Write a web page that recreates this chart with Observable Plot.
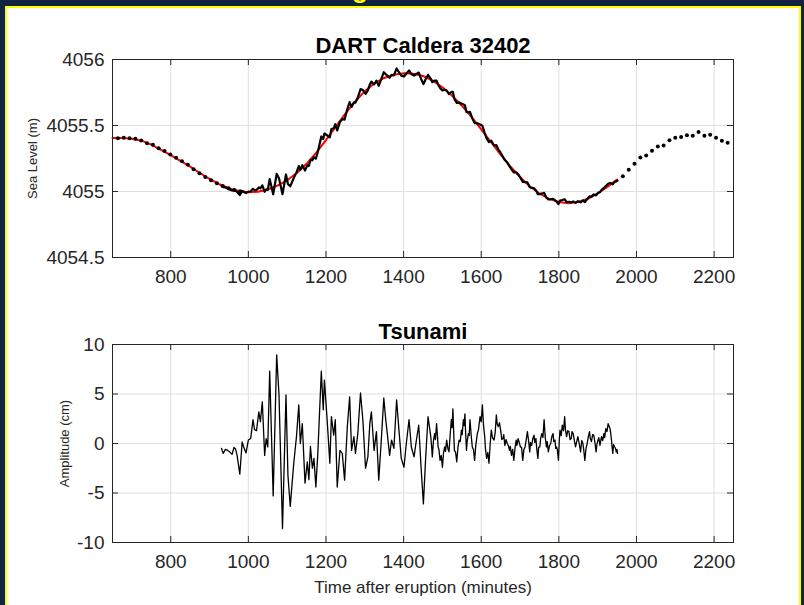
<!DOCTYPE html>
<html>
<head>
<meta charset="utf-8">
<script src="https://cdn.jsdelivr.net/npm/d3@7"></script>
<script src="https://cdn.jsdelivr.net/npm/@observablehq/plot@0.6"></script>
<style>
  html, body { margin: 0; padding: 0; }
  body { width: 804px; height: 605px; overflow: hidden; background: #10243f; position: relative;
         font-family: 'Liberation Sans', Arial, Helvetica, sans-serif; }
  #panel { position: absolute; left: 5px; top: 6px; width: 796px; height: 640px; box-sizing: border-box;
           border: 2px solid #ffff00; background: #ffffff; }
  #slideg { position: absolute; left: 352px; top: -24px; font: bold 26px 'Liberation Sans', Arial, sans-serif;
            line-height: 26px; color: #ffff00; }
  #p1 { position: absolute; left: 7px; top: 8px; }
  #p2 { position: absolute; left: 7px; top: 300px; }
</style>
</head>
<body>
<div id="panel"></div>
<div id="slideg">g</div>
<div id="p1"></div>
<div id="p2"></div>
<script>
// ---------------- data ----------------
const xTicks = [800, 1000, 1200, 1400, 1600, 1800, 2000, 2200];
const levelTicks = [4054.5, 4055, 4055.5, 4056];
const ampTicks = [-10, -5, 0, 5, 10];

// red tidal fit (m)
const tideMinutes = [650,675,700,725,750,775,800,825,850,875,900,925,950,975,1000,1025,1050,1075,1100,1125,1150,1175,1200,1225,1250,1275,1300,1325,1350,1375,1400,1425,1450,1475,1500,1525,1550,1575,1600,1625,1650,1675,1700,1725,1750,1775,1800,1825,1850,1875,1900,1925,1950];
const tideLevel = [4055.405,4055.405,4055.400,4055.385,4055.355,4055.315,4055.275,4055.232,4055.188,4055.140,4055.095,4055.055,4055.025,4055.005,4054.995,4054.998,4055.015,4055.045,4055.085,4055.140,4055.210,4055.295,4055.390,4055.490,4055.590,4055.680,4055.760,4055.820,4055.860,4055.885,4055.895,4055.892,4055.875,4055.840,4055.790,4055.725,4055.650,4055.565,4055.470,4055.375,4055.280,4055.190,4055.110,4055.040,4054.985,4054.945,4054.920,4054.910,4054.920,4054.945,4054.985,4055.035,4055.090];

// 15-minute samples (black dots)
const dotMinutes = [664,679,694,709,724,739,754,769,784,799,814,829,844,859,874,889,904,919,934,949,964,979,
  1965,1980,1995,2010,2025,2040,2055,2070,2085,2100,2115,2130,2145,2160,2175,2190,2205,2220,2235];
const dotLevel = [4055.404,4055.407,4055.404,4055.399,4055.387,4055.366,4055.354,4055.328,4055.306,4055.280,4055.255,4055.230,4055.202,4055.169,4055.138,4055.110,4055.085,4055.062,4055.042,4055.024,4055.012,4055.002,
  4055.116,4055.164,4055.210,4055.258,4055.273,4055.309,4055.341,4055.349,4055.389,4055.407,4055.412,4055.427,4055.422,4055.450,4055.422,4055.430,4055.407,4055.384,4055.369];

// high-rate record, upper panel (black line)
const eventMinutes = [
  931,935,941,947,952,958,963,967,971,978,
  984,988,994,1000,1006,1012,1016,1021,1027,1031,
  1036,1042,1046,1050,1055,1064,1073,1079,1088,1097,
  1102,1108,1117,1124,1130,1134,1139,1146,1152,1156,
  1160,1165,1169,1174,1179,1188,1193,1196,1203,1210,
  1214,1220,1224,1229,1236,1242,1248,1255,1261,1266,
  1272,1276,1282,1289,1295,1302,1308,1313,1317,1324,
  1330,1336,1342,1349,1354,1358,1364,1369,1375,1382,
  1388,1394,1401,1407,1414,1420,1427,1433,1439,1445,
  1451,1457,1463,1470,1474,1480,1485,1489,1494,1500,
  1506,1511,1517,1523,1527,1531,1537,1543,1549,1554,
  1558,1562,1567,1571,1577,1583,1590,1597,1603,1609,
  1614,1620,1626,1633,1639,1644,1650,1656,1661,1667,
  1673,1678,1684,1690,1695,1701,1707,1713,1719,1725,
  1730,1736,1741,1746,1751,1756,1762,1768,1773,1779,
  1785,1790,1794,1799,1803,1809,1815,1820,1826,1832,
  1837,1843,1849,1856,1862,1867,1873,1879,1884,1890,
  1896,1901,1906,1910,1916,1921,1927,1932,1936,1939,
  1944,1948,1951];
const eventLevel = [
  4055.043,4055.033,4055.030,4055.022,4055.014,4055.008,4055.011,4055.006,4054.996,4054.973,
  4055.003,4054.997,4054.988,4054.999,4055.001,4055.020,4055.011,4055.011,4055.031,4055.024,
  4055.047,4054.998,4055.017,4055.012,4055.094,4054.979,4055.133,4055.100,4054.980,4055.129,
  4055.057,4055.039,4055.102,4055.145,4055.193,4055.165,4055.199,4055.159,4055.198,4055.194,
  4055.241,4055.236,4055.260,4055.248,4055.300,4055.417,4055.397,4055.439,4055.426,4055.410,
  4055.473,4055.479,4055.510,4055.462,4055.527,4055.548,4055.545,4055.625,4055.677,4055.641,
  4055.676,4055.673,4055.712,4055.776,4055.768,4055.740,4055.766,4055.811,4055.833,4055.811,
  4055.840,4055.801,4055.847,4055.904,4055.888,4055.878,4055.862,4055.883,4055.880,4055.932,
  4055.904,4055.878,4055.871,4055.894,4055.917,4055.890,4055.878,4055.891,4055.901,4055.854,
  4055.813,4055.852,4055.884,4055.854,4055.828,4055.840,4055.840,4055.809,4055.785,4055.766,
  4055.771,4055.765,4055.738,4055.754,4055.754,4055.700,4055.671,4055.675,4055.667,4055.660,
  4055.653,4055.602,4055.602,4055.603,4055.554,4055.518,4055.518,4055.508,4055.498,4055.443,
  4055.402,4055.374,4055.385,4055.349,4055.351,4055.320,4055.294,4055.263,4055.238,4055.219,
  4055.190,4055.168,4055.144,4055.146,4055.131,4055.104,4055.073,4055.071,4055.069,4055.032,
  4055.027,4055.025,4055.010,4054.979,4054.980,4054.985,4054.990,4054.953,4054.940,4054.941,
  4054.945,4054.934,4054.923,4054.904,4054.932,4054.935,4054.941,4054.919,4054.922,4054.918,
  4054.925,4054.914,4054.927,4054.918,4054.932,4054.920,4054.943,4054.963,4054.961,4054.978,
  4054.970,4054.990,4054.995,4055.012,4055.027,4055.042,4055.059,4055.065,4055.060,4055.055,
  4055.073,4055.077,4055.082];

// tsunami amplitude (cm), lower panel
const ampMinutes = [
  931,935,941,947,952,958,963,967,971,978,
  984,988,994,1000,1006,1012,1016,1021,1027,1031,
  1036,1042,1046,1050,1055,1064,1073,1079,1088,1097,
  1102,1108,1117,1124,1130,1134,1139,1146,1152,1156,
  1160,1165,1169,1174,1179,1188,1193,1196,1203,1210,
  1214,1220,1224,1229,1236,1242,1248,1255,1261,1266,
  1272,1276,1282,1289,1295,1302,1308,1313,1317,1324,
  1330,1336,1342,1349,1354,1358,1364,1369,1375,1382,
  1388,1394,1401,1407,1414,1420,1427,1433,1439,1445,
  1451,1457,1463,1470,1472,1474,1477,1480,1482,1485,
  1487,1489,1491,1494,1497,1500,1503,1506,1508,1511,
  1514,1517,1520,1523,1525,1527,1529,1531,1534,1537,
  1540,1543,1546,1549,1551,1554,1556,1558,1560,1562,
  1564,1567,1569,1571,1574,1577,1580,1583,1586,1590,
  1593,1597,1600,1603,1606,1609,1611,1614,1617,1620,
  1623,1626,1629,1633,1636,1639,1641,1644,1647,1650,
  1653,1656,1658,1661,1664,1667,1670,1673,1675,1678,
  1681,1684,1687,1690,1692,1695,1698,1701,1704,1707,
  1710,1713,1716,1719,1722,1725,1727,1730,1733,1736,
  1738,1741,1743,1746,1748,1751,1753,1756,1759,1762,
  1765,1768,1770,1773,1776,1779,1782,1785,1787,1790,
  1792,1794,1796,1799,1801,1803,1806,1809,1812,1815,
  1817,1820,1823,1826,1829,1832,1834,1837,1840,1843,
  1846,1849,1852,1856,1859,1862,1864,1867,1870,1873,
  1876,1879,1881,1884,1887,1890,1893,1896,1898,1901,
  1903,1906,1908,1910,1913,1916,1918,1921,1924,1927,
  1929,1932,1934,1936,1937,1939,1941,1944,1946,1948,
  1950,1951];
const ampCm = [
  -0.5,-1.0,-0.6,-0.7,-0.85,-1.1,-0.4,-0.55,-1.2,-3.1,
  0.15,-0.35,-0.95,0.35,0.5,2.4,1.4,1.3,3.2,2.2,
  4.2,-1.2,0.5,-0.35,7.3,-5.3,8.95,4.9,-8.6,4.9,
  -3.2,-6.35,-2.0,0.7,3.9,0,2.0,-4.0,-1.85,-3.65,
  -0.3,-2.5,-1.5,-4.4,-1.0,7.3,3.4,6.4,2.4,-2.0,
  2.7,0.85,2.4,-4.4,-0.7,-1.0,-3.7,1.7,4.7,-0.7,
  0.7,-1.0,1.0,5.1,2.4,-2.5,-1.35,2.0,3.2,-0.7,
  1.2,-3.7,0,4.6,2.4,1.0,-1.2,0.35,-0.5,4.4,
  1.35,-1.5,-2.4,0,2.4,-0.35,-1.35,0.35,1.85,-2.4,
  -6.1,-1.35,2.7,0.7,-0.2,-1.35,0.3,1.0,0.4,2.0,
  0.9,-0.35,-0.6,-1.7,-1.2,-2.4,-0.9,-0.35,-0.8,0.35,
  -0.5,-0.85,0.9,2.4,1.6,3.5,1.2,-0.7,-0.9,-1.85,
  -0.4,0.35,0.2,1.35,0.9,2.4,1.8,3.0,1.0,-0.7,
  0.3,1.0,0.8,2.4,0.9,-0.35,-0.6,-1.7,-0.2,1.0,
  1.4,2.7,2.2,3.9,1.8,0.7,-0.6,-1.5,-0.9,-2.0,
  -0.1,1.35,0.6,0.35,1.1,2.9,2.0,1.7,2.1,1.35,
  0.4,0.5,0.9,-0.2,0.4,0,-0.2,-0.7,-0.3,-1.2,
  -0.6,-1.7,-0.5,0.35,-0.2,0.5,0.1,-0.35,-0.4,-1.7,
  -0.6,-0.35,0.4,1.2,0.3,-0.85,0.1,-0.2,0.5,0.85,
  0.1,0.5,-0.5,-1.5,-0.4,-0.35,0.5,1.0,0.6,2.4,
  0.6,-0.35,0.2,-0.85,-0.2,0,0.7,1.0,0.2,0.35,
  -0.5,-0.35,-0.6,-1.7,0.2,1.35,0.8,1.85,1.3,2.7,
  1.4,0.7,1.3,1.2,0.4,0.5,1.2,1.0,0.3,-0.35,
  0.2,0.7,0.1,-0.85,0.3,0,-0.6,-1.7,-0.5,0,
  0.7,1.2,0.5,0.2,0.9,0.85,0.1,-0.85,-0.1,0.35,
  0.6,-0.2,0.3,0.7,0.3,1.0,0.6,1.5,1.2,2.0,
  1.8,1.5,0.9,0.2,-0.3,-1.0,-0.1,-0.35,-0.5,-0.85,
  -0.6,-1.0];

// ---------------- drawing ----------------
const FONT = "'Liberation Sans', Arial, Helvetica, sans-serif";
const INK = "#262626";
const GRID = "#dfdfdf";
const W = 792, ML = 105, MR = 66;
const IW = W - ML - MR;      // 621
const IH = 198;

const tideRows = tideMinutes.map((t, i) => ({t, v: tideLevel[i]}));
const dotRows = dotMinutes.map((t, i) => ({t, v: dotLevel[i]}));
const obsRows = eventMinutes.map((t, i) => ({t, v: eventLevel[i]}));
const ampRows = ampMinutes.map((t, i) => ({t, v: ampCm[i]}));

function boxMarks(yTicks) {
  return [
    Plot.gridX(xTicks, {stroke: GRID, strokeOpacity: 1, strokeWidth: 1}),
    Plot.gridY(yTicks, {stroke: GRID, strokeOpacity: 1, strokeWidth: 1})
  ];
}
function tickMarks(yTicks) {
  return [
    Plot.tickX(xTicks, {x: d => d, insetTop: IH - 6, stroke: INK}),
    Plot.tickX(xTicks, {x: d => d, insetBottom: IH - 6, stroke: INK}),
    Plot.tickY(yTicks, {y: d => d, insetRight: IW - 6, stroke: INK}),
    Plot.tickY(yTicks, {y: d => d, insetLeft: IW - 6, stroke: INK}),
    Plot.frame({stroke: INK, strokeWidth: 1}),
    Plot.axisX(xTicks, {tickSize: 0, tickPadding: 12, fontSize: 19, fill: INK, label: null, tickFormat: d => String(d)}),
    Plot.axisY(yTicks, {tickSize: 0, tickPadding: 8, fontSize: 19, fill: INK, label: null, tickFormat: d => String(d)})
  ];
}

const seaChart = Plot.plot({
  width: W, height: 292,
  marginLeft: ML, marginRight: MR, marginTop: 51, marginBottom: 43,
  style: {fontFamily: FONT, background: "transparent", overflow: "visible"},
  x: {domain: [650, 2250]},
  y: {domain: [4054.5, 4056]},
  marks: [
    ...boxMarks(levelTicks),
    Plot.line(tideRows, {x: "t", y: "v", stroke: "#ff0000", strokeWidth: 2}),
    Plot.dot(dotRows, {x: "t", y: "v", r: 2, fill: "#000", stroke: "none"}),
    Plot.line(obsRows, {x: "t", y: "v", stroke: "#000", strokeWidth: 2.2}),
    ...tickMarks(levelTicks),
    Plot.text(["DART Caldera 32402"], {text: d => d, frameAnchor: "top", dy: -14, fontSize: 22, fontWeight: "bold", fill: "#000", lineAnchor: "middle"}),
    Plot.text(["Sea Level (m)"], {text: d => d, frameAnchor: "left", dx: -80, rotate: -90, fontSize: 13, fill: INK, textAnchor: "middle", lineAnchor: "middle"})
  ]
});
document.getElementById("p1").appendChild(seaChart);

const ampChart = Plot.plot({
  width: W, height: 305,
  marginLeft: ML, marginRight: MR, marginTop: 44, marginBottom: 63,
  style: {fontFamily: FONT, background: "transparent", overflow: "visible"},
  x: {domain: [650, 2250]},
  y: {domain: [-10, 10]},
  marks: [
    ...boxMarks(ampTicks),
    Plot.line(ampRows, {x: "t", y: "v", stroke: "#000", strokeWidth: 1.3}),
    ...tickMarks(ampTicks),
    Plot.text(["Tsunami"], {text: d => d, frameAnchor: "top", dy: -12.5, fontSize: 22, fontWeight: "bold", fill: "#000", lineAnchor: "middle"}),
    Plot.text(["Amplitude (cm)"], {text: d => d, frameAnchor: "left", dx: -47.5, rotate: -90, fontSize: 13, fill: INK, textAnchor: "middle", lineAnchor: "middle"}),
    Plot.text(["Time after eruption (minutes)"], {text: d => d, frameAnchor: "bottom", dy: 45, fontSize: 17, fill: INK, lineAnchor: "middle"})
  ]
});
document.getElementById("p2").appendChild(ampChart);
</script>
</body>
</html>
